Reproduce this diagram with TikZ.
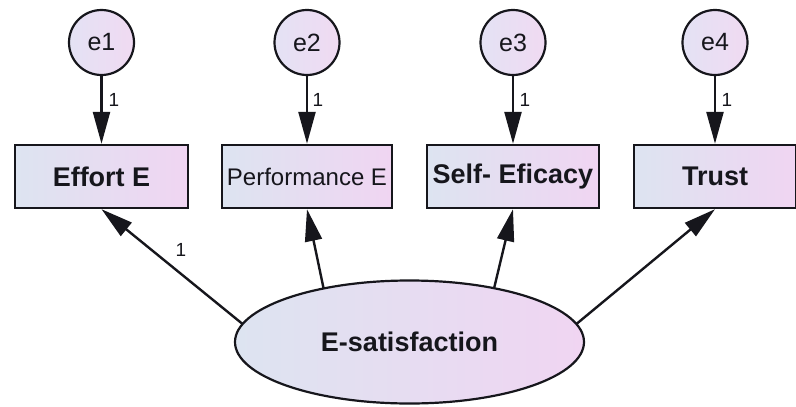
\documentclass[tikz,border=0pt]{standalone}
\usepackage{fontspec}
\setmainfont{Liberation Sans}
\usetikzlibrary{arrows.meta,shapes.geometric,shadings}
\definecolor{fl}{RGB}{221,228,241}
\definecolor{fr}{RGB}{240,213,242}
\definecolor{cl}{RGB}{228,226,244}
\definecolor{cr}{RGB}{240,218,242}
\definecolor{ink}{RGB}{22,22,28}
\begin{document}
\begin{tikzpicture}[x=1pt,y=-1pt,
  obs/.style={draw=ink, line width=2.4pt, left color=fl, right color=fr,
    minimum height=63pt, inner sep=0pt, text=ink},
  bold/.style={font=\fontsize{27}{30}\selectfont\bfseries},
  plain/.style={font=\fontsize{24}{28}\selectfont},
  err/.style={circle, draw=ink, line width=2.2pt, left color=cl, right color=cr,
    minimum size=65pt, inner sep=0pt, text=ink, font=\fontsize{25}{28}\selectfont},
  lat/.style={ellipse, draw=ink, line width=2.2pt, left color=fl, right color=fr,
    minimum width=349pt, minimum height=123pt, inner sep=0pt, text=ink,
    font=\fontsize{27}{30}\selectfont\bfseries},
  arr/.style={draw=ink, line width=2.4pt, -{Triangle[length=32pt,width=17pt]}},
  lbl/.style={font=\fontsize{19}{21}\selectfont, text=ink, inner sep=0pt}]
\useasboundingbox (0,0) rectangle (796,407);

% latent variable
\node[lat] (es) at (409.5,342) {E-satisfaction};

% observed variables
\node[obs,bold,minimum width=173pt] (b1) at (101.5,176.5) {Effort E};
\node[obs,plain,minimum width=170pt] (b2) at (307,176.5) {Performance E};
\node[obs,bold,minimum width=172pt] (b3) at (513,176.5) {Self- Eficacy};
\node[obs,bold,minimum width=162pt] (b4) at (715,176.5) {Trust};

% error terms
\node[err] (e1) at (101.5,42.5) {e1};
\node[err] (e2) at (307,42.5) {e2};
\node[err] (e3) at (513,42.5) {e3};
\node[err] (e4) at (715,42.5) {e4};

% start points on the ellipse boundary
\path (es.center) ++(-166.9,-18.0) coordinate (s1);
\path (es.center) ++(-85.9,-53.5) coordinate (s2);
\path (es.center) ++(84.6,-53.8) coordinate (s3);
\path (es.center) ++(166.9,-18.0) coordinate (s4);

% connectors
\draw[arr] (e1) -- (b1);
\draw[arr] (e2) -- (b2);
\draw[arr] (e3) -- (b3);
\draw[arr] (e4) -- (b4);
\draw[arr] (s1) -- (b1.south);
\draw[arr] (s2) -- (b2.south);
\draw[arr] (s3) -- (b3.south);
\draw[arr] (s4) -- (b4.south);

% labels
\node[lbl] (l1) at (114,100) {1};
\node[lbl] (l2) at (318,100) {1};
\node[lbl] (l3) at (525,100) {1};
\node[lbl] (l4) at (727,100) {1};
\node[lbl] (l5) at (181,250) {1};
\end{tikzpicture}
\end{document}
